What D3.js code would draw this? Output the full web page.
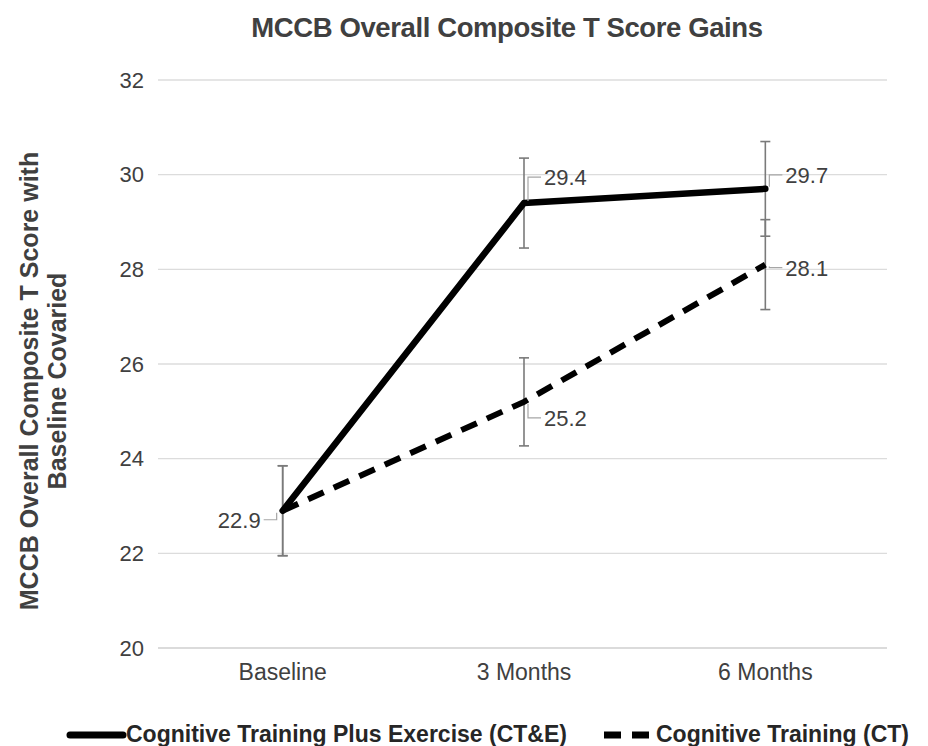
<!DOCTYPE html>
<html>
<head>
<meta charset="utf-8">
<script src="https://cdn.jsdelivr.net/npm/d3@7"></script>
<style>
  body { margin: 0; background: #fff; }
  text { font-family: "Liberation Sans", Arial, sans-serif; }
</style>
</head>
<body>
<div id="chart"></div>
<script>
// chart data
var categories = ["Baseline", "3 Months", "6 Months"];
var cteValues = [22.9, 29.4, 29.7];
var cteErrors = [0.95, 0.95, 1.0];
var ctValues = [22.9, 25.2, 28.1];
var ctErrors = [0.95, 0.93, 0.95];
var yTicks = [20, 22, 24, 26, 28, 30, 32];
var seriesNames = ["Cognitive Training Plus Exercise (CT&E)", "Cognitive Training (CT)"];

var svgWidth = 928;
var svgHeight = 746;

var svg = d3.select("#chart")
  .append("svg")
  .attr("width", svgWidth)
  .attr("height", svgHeight);

var scaleX = d3.scaleBand()
  .domain(categories)
  .range([162, 886]);

var scaleY = d3.scaleLinear()
  .domain([20, 32])
  .range([648, 80]);

var cx = d => scaleX(d) + scaleX.bandwidth() / 2;

// gridlines
svg.append("g")
  .selectAll("line")
  .data(yTicks)
  .enter()
  .append("line")
  .attr("x1", 158)
  .attr("x2", 887)
  .attr("y1", d => scaleY(d))
  .attr("y2", d => scaleY(d))
  .attr("stroke", d => d === 20 ? "#cfcfcf" : "#dcdcdc")
  .attr("stroke-width", 1.3);

// y axis labels
var vAxis = d3.axisLeft(scaleY)
  .tickValues(yTicks)
  .tickSize(0)
  .tickPadding(0);
var vAxisG = svg.append("g")
  .attr("transform", "translate(144,0)")
  .call(vAxis);
vAxisG.select(".domain").remove();
vAxisG.selectAll("text")
  .attr("font-size", 22)
  .attr("fill", "#404040")
  .style("font-family", "'Liberation Sans', Arial, sans-serif");

// x axis labels
var hAxis = d3.axisBottom(scaleX)
  .tickSize(0)
  .tickPadding(0);
var hAxisG = svg.append("g")
  .attr("transform", "translate(0,664)")
  .call(hAxis);
hAxisG.select(".domain").remove();
hAxisG.selectAll("text")
  .attr("font-size", 23)
  .attr("fill", "#404040")
  .style("font-family", "'Liberation Sans', Arial, sans-serif");

// error bars
function errorBars(values, errors) {
  var g = svg.append("g");
  values.forEach(function(v, i) {
    var x = cx(categories[i]);
    var top = scaleY(v + errors[i]);
    var bot = scaleY(v - errors[i]);
    g.append("line").attr("x1", x).attr("x2", x).attr("y1", top).attr("y2", bot);
    g.append("line").attr("x1", x - 5).attr("x2", x + 5).attr("y1", top).attr("y2", top);
    g.append("line").attr("x1", x - 5).attr("x2", x + 5).attr("y1", bot).attr("y2", bot);
  });
  g.selectAll("line").attr("stroke", "#7a7a7a").attr("stroke-width", 1.6);
}
errorBars(cteValues, cteErrors);
errorBars(ctValues, ctErrors);

// series lines
var line = d3.line()
  .x((d, i) => cx(categories[i]))
  .y(d => scaleY(d));

svg.append("path")
  .datum(ctValues)
  .attr("d", line)
  .attr("fill", "none")
  .attr("stroke", "#000")
  .attr("stroke-width", 6)
  .attr("stroke-dasharray", "17,11")
  .attr("stroke-linecap", "butt");

svg.append("path")
  .datum(cteValues)
  .attr("d", line)
  .attr("fill", "none")
  .attr("stroke", "#000")
  .attr("stroke-width", 6.5)
  .attr("stroke-linejoin", "round")
  .attr("stroke-linecap", "round");

// data labels with short leader lines
var labelOffsets = [
  { s: 0, i: 1, dx: 20, dy: -26 },
  { s: 0, i: 2, dx: 20, dy: -14 },
  { s: 1, i: 0, dx: -22, dy: 9 },
  { s: 1, i: 1, dx: 20, dy: 16 },
  { s: 1, i: 2, dx: 20, dy: 3 }
];
var allValues = [cteValues, ctValues];
var labelG = svg.append("g");
labelOffsets.forEach(function(o) {
  var v = allValues[o.s][o.i];
  var x = cx(categories[o.i]);
  var y = scaleY(v);
  var lx = x + o.dx;
  var ly = y + o.dy;
  var ex = o.dx > 0 ? lx - 3 : lx + 3;
  var sx = o.dx > 0 ? x + 4 : x - 6;
  labelG.append("path")
    .attr("d", `M${ex},${ly} L${sx},${ly} L${sx},${y + (o.dy > 0 ? 2 : -2)}`)
    .attr("fill", "none")
    .attr("stroke", "#a6a6a6")
    .attr("stroke-width", 1.2);
  labelG.append("text")
    .attr("x", lx)
    .attr("y", ly)
    .attr("dy", "0.36em")
    .attr("text-anchor", o.dx > 0 ? "start" : "end")
    .attr("font-size", 22)
    .attr("fill", "#404040")
    .text(v.toFixed(1));
});

// title
svg.append("text")
  .attr("x", 507)
  .attr("y", 37)
  .attr("text-anchor", "middle")
  .attr("font-size", 27.5)
  .attr("font-weight", "bold")
  .attr("fill", "#404040")
  .attr("letter-spacing", -0.4)
  .text("MCCB Overall Composite T Score Gains");

// y axis title
var yTitle = svg.append("text")
  .attr("transform", "translate(0,381) rotate(-90)")
  .attr("text-anchor", "middle")
  .attr("font-size", 25)
  .attr("font-weight", "bold")
  .attr("fill", "#404040");
yTitle.append("tspan").attr("x", 0).attr("y", 38).text("MCCB Overall Composite T Score with");
yTitle.append("tspan").attr("x", 0).attr("y", 66).text("Baseline Covaried");

// legend
var legend = svg.append("g");
legend.append("line")
  .attr("x1", 70).attr("x2", 123)
  .attr("y1", 735).attr("y2", 735)
  .attr("stroke", "#000").attr("stroke-width", 7)
  .attr("stroke-linecap", "round");
legend.append("text")
  .attr("x", 126).attr("y", 742)
  .attr("font-size", 23).attr("font-weight", "bold")
  .attr("fill", "#262626")
  .text(seriesNames[0]);
legend.append("line")
  .attr("x1", 604).attr("x2", 652)
  .attr("y1", 735).attr("y2", 735)
  .attr("stroke", "#000").attr("stroke-width", 7)
  .attr("stroke-dasharray", "17,11")
  .attr("stroke-linecap", "butt");
legend.append("text")
  .attr("x", 656).attr("y", 742)
  .attr("font-size", 23).attr("font-weight", "bold")
  .attr("fill", "#262626")
  .text(seriesNames[1]);
</script>
</body>
</html>
